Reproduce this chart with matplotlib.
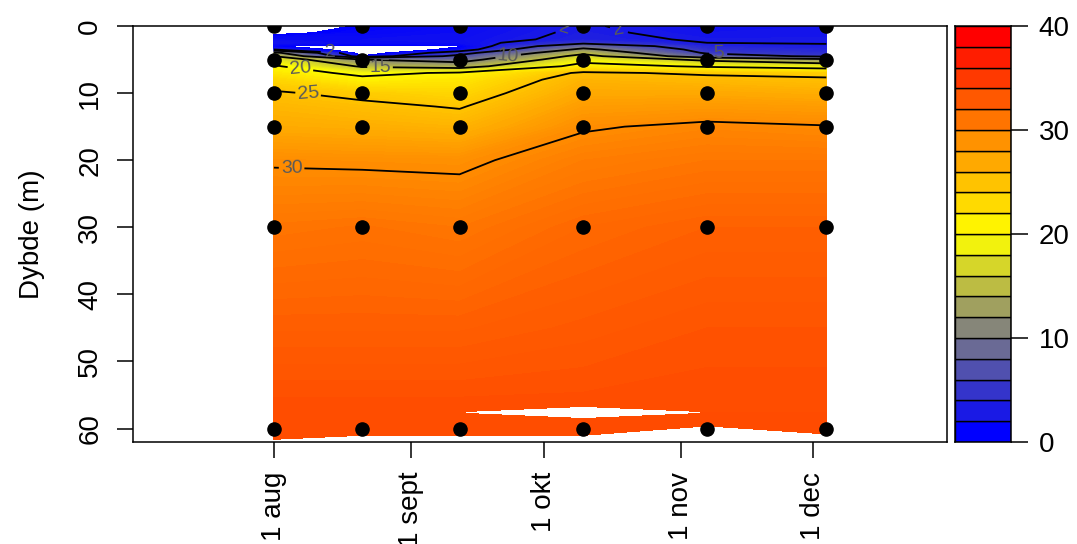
import numpy as np
import matplotlib
matplotlib.use("Agg")
import matplotlib.pyplot as plt
import matplotlib.dates as mdates
from matplotlib.colors import LinearSegmentedColormap

plt.rcParams["font.family"] = ["Liberation Sans", "DejaVu Sans"]

# stations (sampling dates) and the depths that were sampled
station_dates = np.array(["2013-08-01", "2013-08-21", "2013-09-12",
                          "2013-10-10", "2013-11-07", "2013-12-04"], dtype="datetime64[D]")
sample_depths = [0, 5, 10, 15, 30, 60]
bottom_depths = [61.6, 61.0, 61.0, 61.0, 59.6, 60.8]

# gridded salinity; values below 0 are left blank,
# like the holes in the original interpolated grid
profile_depths = [0, 1, 2, 2.5, 3, 3.5, 4, 4.5, 5, 6, 7, 8, 10, 12, 15, 20, 30, 45, 56.8, 57.6, 58.4, 60]
sal_aug01 = [-1.0, -0.4, 1.0, 1.5, 0.05, 2.0, 11.0, 15.0, 18.0, 20.5, 22.0, 23.5, 25.3, 26.3, 27.3, 29.8, 31.6, 33.2, 34.4, 34.4, 34.5, 34.5]
sal_aug21 = [0.15, 0.5, 1.0, 0.8, -0.4, -1.2, -1.2, 0.2, 10.0, 14.5, 19.0, 21.0, 24.3, 25.6, 27.0, 29.7, 31.8, 33.2, 34.4, 34.4, 34.5, 34.5]
sal_sep12 = [0.8, 1.0, 1.2, 1.0, -0.1, 0.4, 3.5, 6.0, 8.0, 13.0, 20.5, 22.0, 23.5, 24.8, 26.5, 29.6, 31.5, 33.2, 34.4, 34.4, 34.5, 34.5]
sal_oct10 = [2.15, 2.3, 2.5, 4.0, 8.0, 11.0, 14.0, 16.5, 18.5, 21.5, 25.5, 26.5, 27.5, 28.5, 29.8, 31.0, 32.5, 33.6, 34.4, 34.4, 34.5, 34.5]
sal_nov07 = [1.3, 1.5, 1.8, 2.0, 2.8, 3.6, 4.5, 7.0, 14.0, 19.5, 24.5, 26.0, 27.5, 28.8, 30.4, 31.5, 33.0, 34.0, 34.5, 34.5, 34.6, 34.6]
sal_dec04 = [1.5, 1.6, 1.8, 1.9, 2.2, 2.8, 3.5, 4.2, 11.0, 18.0, 24.0, 25.5, 27.0, 28.5, 30.1, 31.5, 33.0, 34.0, 34.5, 34.5, 34.6, 34.6]

# grid node with no interpolated value (blank hole near the bottom)
gap_station = 3
gap_depth = 57.6

contour_levels = [2, 5, 10, 15, 20, 25, 30]
key_levels = np.arange(0, 41, 2)
tick_dates = np.array(["2013-08-01", "2013-09-01", "2013-10-01", "2013-11-01", "2013-12-01"], dtype="datetime64[D]")
tick_labels = ["1 aug", "1 sept", "1 okt", "1 nov", "1 dec"]

ramp = LinearSegmentedColormap.from_list("ramp", ["blue", "#7f7f7f", "yellow", "#ff8c00", "red"])
key_colors = [ramp(i / (len(key_levels) - 2)) for i in range(len(key_levels) - 1)]


def to_num(d):
    return mdates.date2num(d.astype("datetime64[s]").astype(object))


x_st = to_num(station_dates)
Z = np.array([sal_aug01, sal_aug21, sal_sep12, sal_oct10, sal_nov07, sal_dec04]).T
X = np.tile(x_st, (len(profile_depths), 1))
Y = np.tile(np.array(profile_depths, dtype=float)[:, None], (1, len(x_st)))
Y[-1, :] = bottom_depths
gap = np.zeros_like(Z)
gap[profile_depths.index(gap_depth), gap_station] = 1.0

fig = plt.figure(figsize=(10.77, 5.44), dpi=100)
ax = fig.add_axes([133 / 1077, 102 / 544, 814 / 1077, 416 / 544])
cax = fig.add_axes([955 / 1077, 102 / 544, 56 / 1077, 416 / 544])

ax.contourf(X, Y, Z, levels=np.linspace(0, 40, 161), cmap=ramp, vmin=0, vmax=40)
ax.contourf(X, Y, gap, levels=[0.06, 2], colors="white")
cs = ax.contour(X, Y, Z, levels=contour_levels, colors="black", linewidths=1.3)

aug1 = x_st[0]
label_spots = [(aug1 + 12.7, 2.6), (aug1 + 66, 1.3), (aug1 + 78, 0.9), (aug1 + 100.5, 4.3),
               (aug1 + 53, 4.6), (aug1 + 24, 6.4), (aug1 + 6, 6.2), (aug1 + 7.7, 10.4), (aug1 + 4, 20.6)]
ax.clabel(cs, fmt="%d", fontsize=14, colors="#5a5a5a", inline=True, inline_spacing=8, manual=label_spots)

xs, ys = np.meshgrid(x_st, sample_depths)
ax.scatter(xs.ravel(), ys.ravel(), s=90, color="black", zorder=5)

ax.set_xlim(aug1 - 31.9, aug1 + 152.3)
ax.set_ylim(62, 0)
ax.set_xticks(to_num(tick_dates))
ax.set_xticklabels(tick_labels, rotation=90, fontsize=20)
ax.set_yticks([0, 10, 20, 30, 40, 50, 60])
ax.set_yticklabels(["0", "10", "20", "30", "40", "50", "60"], rotation=90, va="center", fontsize=20)
ax.tick_params(axis="x", length=11.5, width=1.1, pad=10)
ax.tick_params(axis="y", length=11.5, width=1.1, pad=10)
ax.set_ylabel("Dybde (m)", fontsize=20)
ax.yaxis.set_label_coords(-0.108, 0.5)
for sp in ax.spines.values():
    sp.set_linewidth(1.1)

cax.bar(0.5, 2, bottom=key_levels[:-1], width=1, color=key_colors, edgecolor="black", linewidth=1)
cax.set_xlim(0, 1)
cax.set_ylim(0, 40)
cax.set_xticks([])
cax.yaxis.tick_right()
cax.set_yticks([0, 10, 20, 30, 40])
cax.tick_params(axis="y", length=12, width=1.1, pad=8, labelsize=20)
for sp in cax.spines.values():
    sp.set_linewidth(1.1)

fig.savefig("out.png", dpi=100)
plt.close(fig)
